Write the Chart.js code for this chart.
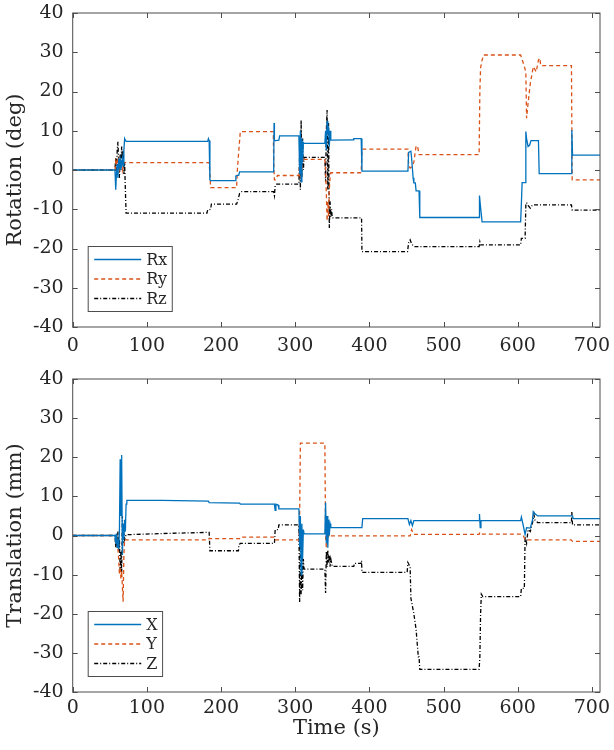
<!DOCTYPE html>
<html>
<head>
<meta charset="utf-8">
<script src="https://cdn.jsdelivr.net/npm/chart.js@4"></script>
<style>
  body { margin: 0; background: #fff; }
  canvas { position: absolute; left: 0; }
</style>
</head>
<body>
<canvas id="rotChart" width="614" height="360" style="top:0"></canvas>
<canvas id="transChart" width="614" height="390" style="top:360px"></canvas>
<script>
"use strict";

// Axis setup
const timeMax = 711;
const timeTicks = [0, 100, 200, 300, 400, 500, 600, 700];
const yTicks = [-40, -30, -20, -10, 0, 10, 20, 30, 40];

// Rotation (deg)
const rxT = [0, 57, 58, 59, 60, 61, 62, 63, 64, 65, 66, 67, 68, 69, 70, 71, 72, 120, 182, 183, 184, 185, 186, 219, 220, 224, 225, 271, 271.5, 272, 274, 278, 279, 305, 306, 307, 308, 309, 310, 311, 312, 340, 341, 342, 343, 344, 345, 346, 347, 348, 378, 379, 389, 390, 452, 453, 456, 457, 459, 460, 462, 463, 467, 468, 548, 548.5, 549.5, 550.5, 552, 604, 605, 606, 610, 611, 612, 614, 616, 618, 628, 629, 672, 673, 674, 711];
const rxV = [0, 0, -5, -1, 1.5, -2, 3, 1, 2.5, 0, 1.5, 3, 1, 5, 8, 7.6, 7.3, 7.3, 7.3, 8, 7.5, -2.5, -2.7, -2.7, -1.5, -1.3, -0.5, -0.5, 12, 7.5, 7.5, 7.6, 8.7, 8.7, -1, 10, -3, 8, 2, 7, 6.8, 6.8, 10, 5, 12.5, 9, 11, 6, 10, 7.6, 7.7, 8, 8, -0.3, -0.3, 4.5, 4.8, 3, -2, -3.3, -3.3, -5.3, -5.3, -12.1, -12.1, -6.5, -8.6, -8.6, -13.2, -13.2, -8.5, -3.2, -3.2, 9.8, 8, 6, 6.3, 7.5, 7.5, -0.9, -0.9, 10.2, 3.8, 3.8];

const ryT = [0, 57, 58, 59, 60, 61, 62, 63, 64, 65, 66, 67, 68, 69, 70, 184, 185, 186, 221, 222, 224, 226, 270.5, 271, 272, 274, 276, 305, 306, 307, 308, 309, 310, 311, 312, 340, 341, 342, 343, 344, 345, 346, 347, 348, 389, 390, 452, 453, 455, 458, 460, 463, 465, 467, 548, 549, 550, 552, 554, 604, 608, 611, 612, 614, 617, 621, 625, 628, 630, 631, 672.5, 673.5, 711];
const ryV = [0, 0, 2, 1, 3, 1.5, 2.5, 0.5, 2, 1, 2.5, 0, 1, 2, 1.9, 1.9, -1, -4.5, -4.5, 0, 5, 9.8, 9.8, 2, -2.5, -2.5, -1.4, -1.4, 1, -2, 3, 0, 3.5, 2, 2.7, 2.7, 0, -6, -13, -8, -12, -5, -2, -0.7, -0.7, 5.3, 5.3, 1, 0.5, 1, 2, 6.1, 6.1, 3.9, 3.9, 20, 26, 28, 29.3, 29.3, 27, 25, 13.2, 17, 22, 26.3, 25, 28, 28.5, 26.6, 26.6, -2.5, -2.5];

const rzT = [0, 57, 58, 59, 60, 61, 62, 63, 64, 65, 66, 67, 68, 69, 70, 71, 72, 181, 182, 186, 187, 221, 223, 225, 228, 271, 272, 273, 275, 305, 306, 307, 308, 309, 310, 311, 312, 340, 341, 342, 343, 344, 345, 346, 347, 348, 349, 350, 389.5, 390, 451.5, 453, 455, 457, 460, 548, 549, 550, 604, 605, 610, 611, 612, 614, 617, 620, 672.5, 673.5, 711];
const rzV = [0, 0, 3, -1, 5, 7.2, 2, -2, 4, 0, 6, 3, 5, -1, 2, -5, -11, -11, -10.2, -10, -8.7, -8.7, -7.5, -6, -5.5, -5.5, -6.5, -4, -3.6, -3.6, 4, -5, 12.7, -2, 8, 0, 3.2, 3.2, -3, 10, 15.3, -5, 12, -14.8, -8, -12, -10, -12.2, -12.2, -20.8, -20.8, -18.5, -17.8, -18.8, -19.5, -19.5, -18.3, -19.1, -19.1, -17.4, -17.4, -9, -8.3, -9, -9.7, -8.9, -8.9, -10.2, -10.2];

// Translation (mm)
const xT = [0, 57, 58, 59, 60, 61, 62, 63, 64, 65, 66, 67, 68, 69, 70, 71, 72, 73, 120, 183, 184, 225, 226, 272, 273, 274, 277, 278, 305, 306, 307, 308, 309, 310, 311, 312, 340, 341, 342, 343, 344, 345, 346, 347, 348, 390, 391, 452, 454, 456, 458, 460, 548, 548.5, 549.5, 550.5, 604, 605, 607, 610, 612, 617, 620, 621, 623, 627, 674, 675, 711];
const xV = [0, 0, -2, 0.5, -3, -1, -3.5, 1, 19.5, 5, 20.6, -5, 3, -1, 4, 1, 8, 9, 9, 8.8, 8.4, 8.3, 8, 8, 6.4, 8, 7.8, 6.8, 6.8, -3, 5, -10, 3, -6, 1.5, 0.4, 0.4, 8.4, -2, 5, -3.1, 4, 0, 3, 2, 2, 4.3, 4.3, 2.8, 3.8, 2.5, 3.8, 3.8, 5.5, 2, 3.8, 3.8, 4.7, 3, 0.3, 2, 1.9, 4, 6.1, 5.6, 5, 5, 4.3, 4.3];

const yT = [0, 57, 60, 62, 63, 64, 65, 66, 67, 68, 69, 70, 71, 183, 184, 225, 226, 272, 273, 305, 306, 307, 340, 341, 342, 344, 346, 348, 455, 457, 460, 548, 549, 551, 605, 608, 610, 672, 674, 711];
const yV = [0, 0, -1, -6, -10, -8, -11, -9, -13, -16.9, -5, -1, -1.1, -1.1, -0.8, -0.8, -0.4, -0.4, -1.1, -1.1, 5, 23.6, 23.6, 0, -3, -1, 0.5, -0.1, -0.1, 1.5, 0.3, 0.3, 0.8, 0.35, 0.35, -0.2, -1.1, -1.1, -1.5, -1.5];

const zT = [0, 57, 58, 59, 60, 61, 62, 63, 64, 65, 66, 67, 68, 69, 70, 72, 120, 184, 185, 223.5, 224, 226, 272, 273, 277, 278, 305, 306, 307, 308, 309, 310, 311, 312, 340, 341, 342, 343, 344, 345, 346, 347, 348, 350, 379, 380, 389, 389.5, 390, 451, 452, 455, 456, 460, 463, 466, 467, 468, 548, 549, 550, 551, 553, 604, 605, 609, 610, 612, 614, 617, 620, 622, 623, 627, 672.5, 673, 674, 711];
const zV = [0, 0, -3, 0, -3.1, 1, -4, -1, -9, -4, -9.5, 4.9, -2, 2, -1, 0.2, 0.5, 0.8, -3.9, -3.9, -2.5, -2, -2, 1.5, 1.5, 2.7, 2.7, -17, -3, -15, -5, -14, -6, -8.6, -8.6, -14.7, -4, -8, -3.7, -7, -5, -8, -6, -7.9, -7.9, -7.1, -7.1, -6.4, -9.4, -9.4, -6.9, -8, -16, -20, -24, -31, -31, -34.2, -34.2, -31, -20, -15, -15.6, -15.6, -13.5, -13.5, -0.3, -2, 1.5, 1, 3.3, 5.3, 4, 3.3, 3.3, 6, 2.7, 2.7];

const BLUE = "#0072BD";
const ORANGE = "#D95319";
const BLACK = "#000000";
const TEXT = "#262626";
const FONT = "'DejaVu Serif', serif";

function pts(t, v) {
  return t.map((x, i) => ({ x: x, y: v[i] }));
}

function line(label, t, v, color, dash) {
  return {
    label: label,
    data: pts(t, v),
    borderColor: color,
    backgroundColor: color,
    borderWidth: 1.3,
    borderDash: dash,
    pointRadius: 0,
    tension: 0,
    fill: false
  };
}

// box around the axes with MATLAB style inward ticks
const framePlugin = {
  id: "frame",
  afterDatasetsDraw(chart) {
    const { ctx, chartArea: a, scales } = chart;
    ctx.save();
    ctx.strokeStyle = "#4d4d4d";
    ctx.lineWidth = 1;
    ctx.strokeRect(a.left, a.top, a.right - a.left, a.bottom - a.top);
    ctx.beginPath();
    scales.x.ticks.forEach(t => {
      const px = Math.round(scales.x.getPixelForValue(t.value)) + 0.5;
      ctx.moveTo(px, a.bottom); ctx.lineTo(px, a.bottom - 5);
      ctx.moveTo(px, a.top); ctx.lineTo(px, a.top + 5);
    });
    scales.y.ticks.forEach(t => {
      const py = Math.round(scales.y.getPixelForValue(t.value)) + 0.5;
      ctx.moveTo(a.left, py); ctx.lineTo(a.left + 5, py);
      ctx.moveTo(a.right, py); ctx.lineTo(a.right - 5, py);
    });
    ctx.stroke();
    ctx.restore();
  }
};

// legend box in the lower left corner of the axes
const boxLegend = {
  id: "boxLegend",
  afterDraw(chart) {
    const { ctx, chartArea: a } = chart;
    const sets = chart.data.datasets;
    ctx.save();
    ctx.font = "16px " + FONT;
    const textW = Math.max(...sets.map(d => ctx.measureText(d.label).width));
    const left = a.left + 15.5;
    const h = 65;
    const top = a.bottom - 15.5 - h;
    const w = 6 + 47 + 5 + textW + 5;
    ctx.fillStyle = "#fff";
    ctx.fillRect(left, top, w, h);
    ctx.strokeStyle = "#4d4d4d";
    ctx.lineWidth = 1;
    ctx.strokeRect(left, top, w, h);
    sets.forEach((d, i) => {
      const y = top + 13 + i * 19.5;
      ctx.beginPath();
      ctx.setLineDash(d.borderDash || []);
      ctx.strokeStyle = d.borderColor;
      ctx.lineWidth = d.borderWidth;
      ctx.moveTo(left + 6, y);
      ctx.lineTo(left + 53, y);
      ctx.stroke();
      ctx.setLineDash([]);
      ctx.fillStyle = TEXT;
      ctx.textBaseline = "middle";
      ctx.fillText(d.label, left + 58, y + 1);
    });
    ctx.restore();
  }
};

function makeChart(id, datasets, yTitle, xTitle, padTop, xHeight, xPad) {
  return new Chart(document.getElementById(id), {
    type: "line",
    data: { datasets: datasets },
    options: {
      responsive: false,
      animation: false,
      layout: { padding: { top: padTop, right: 14, left: 0, bottom: 0 } },
      plugins: { legend: { display: false }, tooltip: { enabled: false } },
      scales: {
        x: {
          type: "linear",
          min: 0,
          max: timeMax,
          afterBuildTicks: s => { s.ticks = timeTicks.map(v => ({ value: v })); },
          ticks: { color: TEXT, font: { family: FONT, size: 19 }, padding: xPad, maxRotation: 0 },
          grid: { display: false },
          border: { display: false },
          title: {
            display: !!xTitle,
            text: xTitle,
            color: TEXT,
            font: { family: FONT, size: 21 },
            padding: { top: 0, bottom: 9 }
          },
          afterFit: s => { s.height = xHeight; }
        },
        y: {
          min: -40,
          max: 40,
          afterBuildTicks: s => { s.ticks = yTicks.map(v => ({ value: v })); },
          ticks: { color: TEXT, font: { family: FONT, size: 19 }, padding: 0 },
          // invisible tick marks only used to push the labels away from the axis
          grid: { display: true, drawOnChartArea: false, drawTicks: true, tickLength: 9, color: "rgba(0,0,0,0)" },
          border: { display: false },
          title: {
            display: true,
            text: yTitle,
            color: TEXT,
            font: { family: FONT, size: 21 },
            padding: { top: 3, bottom: 0 }
          },
          afterFit: s => { s.width = 72.7; }
        }
      }
    },
    plugins: [framePlugin, boxLegend]
  });
}

makeChart("rotChart", [
  line("Rx", rxT, rxV, BLUE, []),
  line("Ry", ryT, ryV, ORANGE, [4, 3]),
  line("Rz", rzT, rzV, BLACK, [4, 2, 1, 2])
], "Rotation (deg)", "", 13, 33, 0);

makeChart("transChart", [
  line("X", xT, xV, BLUE, []),
  line("Y", yT, yV, ORANGE, [4, 3]),
  line("Z", zT, zV, BLACK, [4, 2, 1, 2])
], "Translation (mm)", "Time (s)", 19, 58, -3.5);
</script>
</body>
</html>
